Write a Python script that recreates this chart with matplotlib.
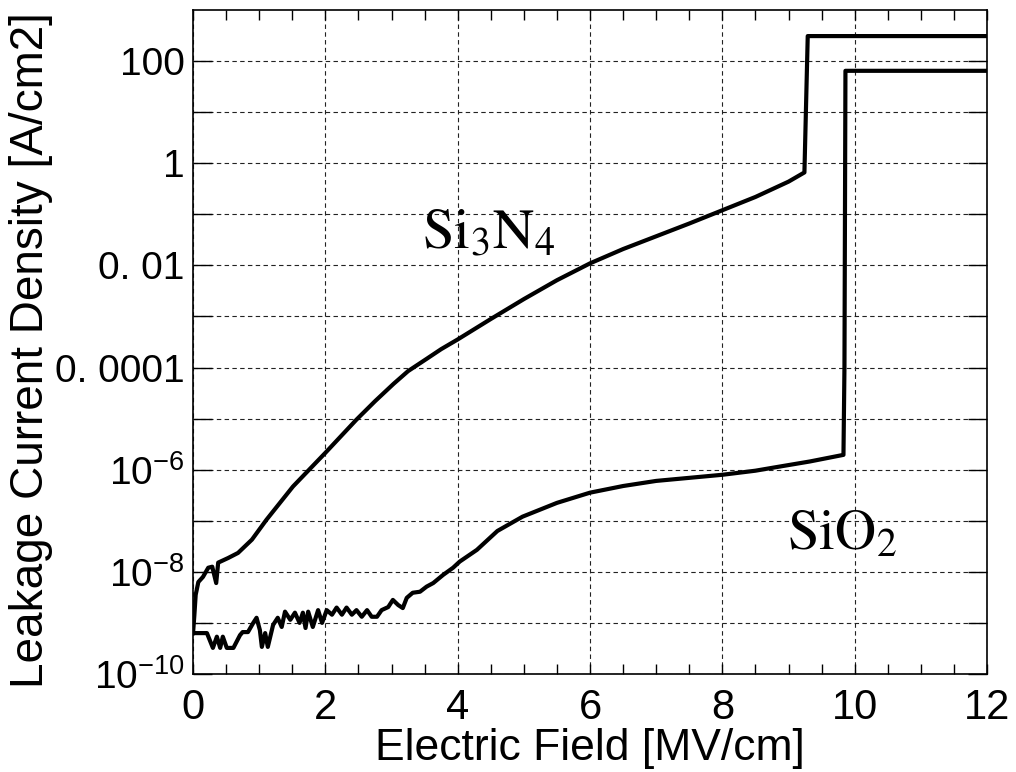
import matplotlib
matplotlib.use("Agg")
import numpy as np
from matplotlib import pyplot as plt
from matplotlib.ticker import FixedLocator, FixedFormatter, MultipleLocator

plt.rcParams['font.family'] = ['Liberation Sans', 'DejaVu Sans']

# Si3N4 I-E curve: field [MV/cm] and log10 of current density [A/cm2]
sin_field = [0.0, 0.02, 0.04, 0.08, 0.15, 0.23, 0.29, 0.35, 0.38, 0.53, 0.68, 0.89,
             1.11, 1.51, 2.0, 2.47, 2.75, 3.03, 3.25, 3.53, 3.75, 4.0, 4.5, 5.0, 5.5, 6.0,
             6.5, 7.0, 7.5, 8.0, 8.5, 9.0, 9.24, 9.29, 12.0]
sin_logj = [-9.2, -8.85, -8.45, -8.2, -8.1, -7.92, -7.9, -8.22, -7.82, -7.73, -7.63, -7.37,
            -6.98, -6.33, -5.67, -5.02, -4.66, -4.32, -4.07, -3.83, -3.64, -3.45, -3.05, -2.66,
            -2.29, -1.96, -1.68, -1.43, -1.18, -0.92, -0.66, -0.36, -0.18, 2.49, 2.49]

# SiO2 I-E curve
sio_field = [0.0, 0.21, 0.3, 0.36, 0.41, 0.45, 0.51, 0.61, 0.71, 0.75, 0.83, 0.91, 0.96,
             1.01, 1.04, 1.09, 1.13, 1.21, 1.28, 1.34, 1.39, 1.47, 1.54, 1.61, 1.66, 1.70,
             1.74, 1.81, 1.89, 1.95, 2.02, 2.1, 2.17, 2.25, 2.32, 2.4, 2.47, 2.55, 2.63,
             2.7, 2.78, 2.85, 2.95, 3.02, 3.1, 3.17, 3.23, 3.32, 3.43, 3.53, 3.63, 3.78,
             3.93, 4.03, 4.29, 4.6, 4.98, 5.5, 6.0, 6.5, 7.0, 7.5, 8.0, 8.5, 8.77, 9.32,
             9.83, 9.845, 9.86, 12.0]
sio_logj = [-9.2, -9.2, -9.49, -9.27, -9.49, -9.27, -9.49, -9.49, -9.24, -9.18, -9.18, -9.0, -8.9,
            -9.14, -9.47, -9.2, -9.47, -9.04, -8.9, -9.08, -8.78, -8.94, -8.8, -9.0, -8.8, -9.1,
            -8.78, -9.08, -8.75, -9.0, -8.75, -8.84, -8.7, -8.84, -8.7, -8.84, -8.75, -8.88, -8.75,
            -8.88, -8.88, -8.75, -8.69, -8.55, -8.65, -8.71, -8.51, -8.41, -8.39, -8.29, -8.22, -8.06,
            -7.92, -7.8, -7.57, -7.2, -6.92, -6.65, -6.45, -6.32, -6.22, -6.16, -6.1, -6.02, -5.96, -5.84,
            -5.71, -4.0, 1.81, 1.81]

y_ticks = [1e-10, 1e-8, 1e-6, 1e-4, 1e-2, 1, 100]
y_ticklabels = [r'$\mathregular{10^{-10}}$', r'$\mathregular{10^{-8}}$', r'$\mathregular{10^{-6}}$',
                '0. 0001', '0. 01', '1', '100']
y_minor = [1e-9, 1e-7, 1e-5, 1e-3, 1e-1, 10]

fig = plt.figure(figsize=(10.16, 7.72), dpi=100)
ax = fig.add_axes([0.19, 0.127, 0.7815, 0.86])

ax.plot(sin_field, 10 ** np.array(sin_logj), color='black', lw=3)
ax.plot(sio_field, 10 ** np.array(sio_logj), color='black', lw=3)

ax.set_yscale('log')
ax.set_xlim(0, 12)
ax.set_ylim(1e-10, 1e3)
ax.xaxis.set_major_locator(MultipleLocator(2))
ax.xaxis.set_minor_locator(MultipleLocator(0.5))
ax.yaxis.set_major_locator(FixedLocator(y_ticks))
ax.yaxis.set_major_formatter(FixedFormatter(y_ticklabels))
ax.yaxis.set_minor_locator(FixedLocator(y_minor))
ax.yaxis.set_minor_formatter(FixedFormatter([''] * len(y_minor)))

ax.grid(True, which='major', axis='x', color='#222222', ls=(0, (4, 3)), lw=0.8)
ax.grid(True, which='both', axis='y', color='#222222', ls=(0, (4, 3)), lw=0.8)

ax.tick_params(axis='x', which='both', direction='in', top=True, length=7, width=1,
               labelsize=30, pad=10)
ax.tick_params(axis='y', which='both', direction='in', right=True, length=14, width=1,
               labelsize=28, pad=6)
for s in ax.spines.values():
    s.set_linewidth(1.2)

ax.set_xlabel('Electric Field [MV/cm]', fontsize=32, labelpad=0)
ax.set_ylabel('Leakage Current Density [A/cm2]', fontsize=33)
ax.yaxis.set_label_coords(-0.176, 0.488)

ax.text(3.46, 10 ** -1.65, r'$\mathrm{Si_3N_4}$', math_fontfamily='stix', fontsize=41,
        ha='left', va='baseline')
ax.text(8.97, 10 ** -7.57, r'$\mathrm{SiO_2}$', math_fontfamily='stix', fontsize=41,
        ha='left', va='baseline')

fig.savefig('out.png', dpi=100)
